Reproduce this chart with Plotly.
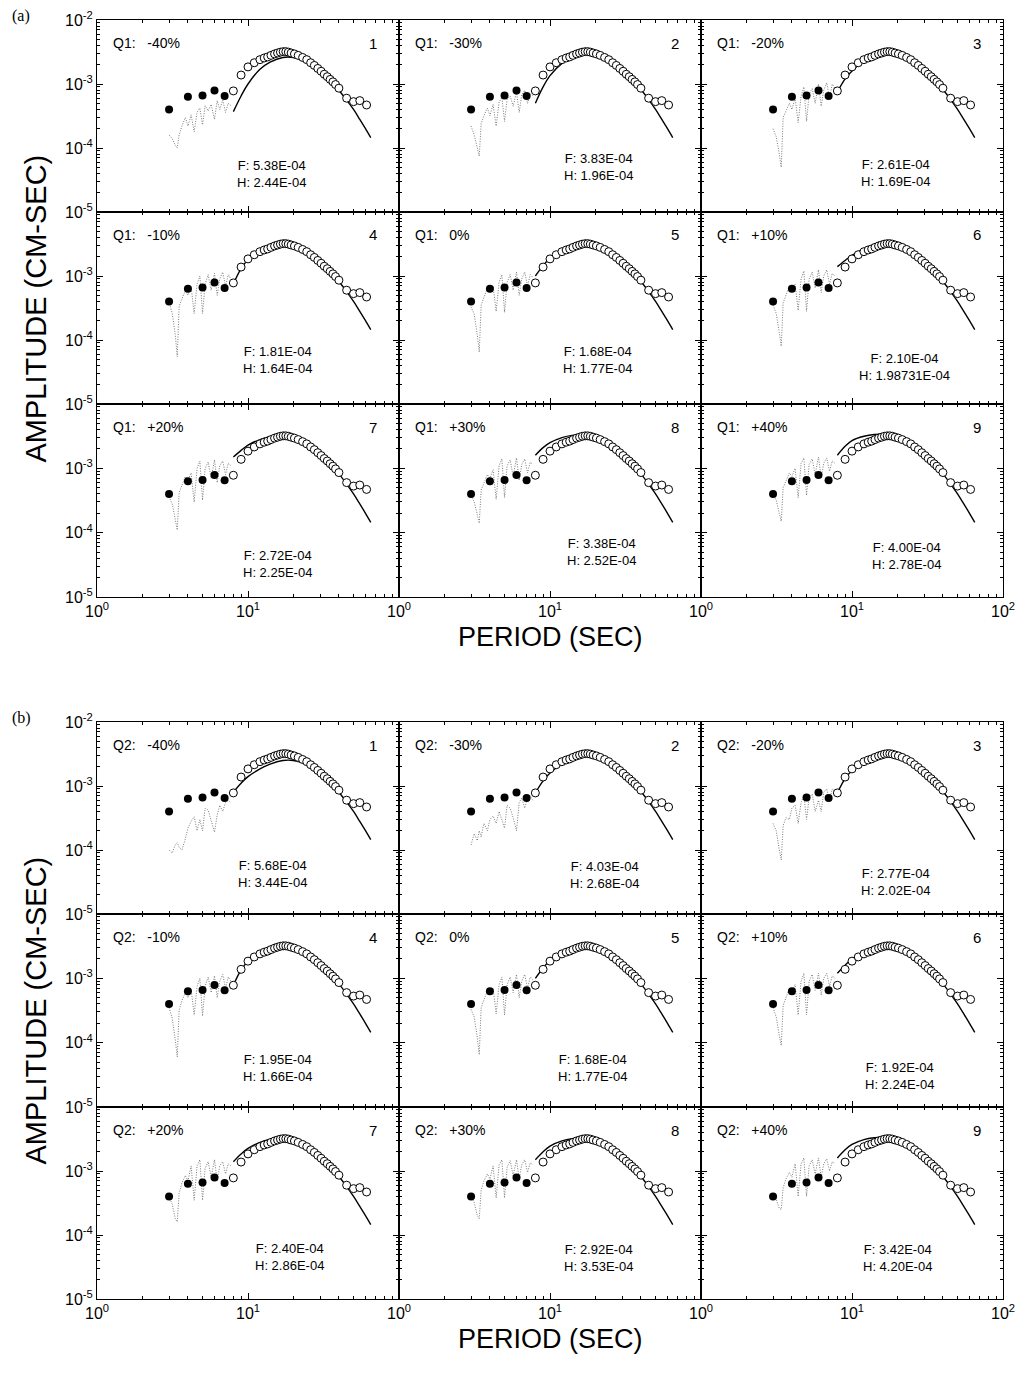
import plotly.graph_objects as go

# page offset: the browser body has an 8px margin, so the figure is drawn 8px in
OFF = 8
W, H = 1026 - 2 * OFF, 1376 - 2 * OFF

# ---------------- data ----------------
filled_T = [3.0, 4.0, 5.0, 6.0, 7.0]
filled_A = [4.0e-4, 6.3e-4, 6.6e-4, 7.9e-4, 6.5e-4]

open_T = [8.0, 9.0, 10.0, 11.0, 12.0, 12.8, 13.5, 14.2, 15.0, 15.7, 16.4, 17.1, 17.8,
          18.5, 19.3, 20.3, 21.5, 23.0, 24.5, 26.0, 27.5, 29.0, 30.5, 32.0, 33.5, 35.0,
          36.5, 38.0, 40.0, 45.0, 50.0, 55.0, 61.0]
open_A = [7.8e-4, 1.38e-3, 1.85e-3, 2.15e-3, 2.4e-3, 2.55e-3, 2.65e-3, 2.8e-3, 2.95e-3,
          3.05e-3, 3.15e-3, 3.2e-3, 3.2e-3, 3.15e-3, 3.05e-3, 2.95e-3, 2.8e-3, 2.6e-3,
          2.4e-3, 2.15e-3, 1.95e-3, 1.75e-3, 1.58e-3, 1.42e-3, 1.3e-3, 1.18e-3, 1.08e-3,
          9.8e-4, 8.6e-4, 6.0e-4, 5.3e-4, 5.5e-4, 4.7e-4]

line_T = [8, 9, 10, 12, 14, 17, 20, 25, 30, 35, 40, 45, 50, 55, 60, 65]
line_q1 = [
    [3.7e-4, 6.5e-4, 1.0e-3, 1.7e-3, 2.2e-3, 2.6e-3, 2.6e-3, 2.2e-3, 1.6e-3, 1.13e-3, 8.0e-4, 5.6e-4, 4.0e-4, 2.8e-4, 2.0e-4, 1.45e-4],
    [5.0e-4, 9.0e-4, 1.35e-3, 2.1e-3, 2.6e-3, 3.0e-3, 2.9e-3, 2.3e-3, 1.62e-3, 1.15e-3, 8.2e-4, 5.7e-4, 4.0e-4, 2.8e-4, 2.0e-4, 1.45e-4],
    [7.5e-4, 1.2e-3, 1.6e-3, 2.3e-3, 2.75e-3, 3.1e-3, 2.95e-3, 2.3e-3, 1.62e-3, 1.15e-3, 8.2e-4, 5.7e-4, 4.0e-4, 2.8e-4, 2.0e-4, 1.45e-4],
    [7.5e-4, 1.3e-3, 1.8e-3, 2.4e-3, 2.85e-3, 3.15e-3, 3.0e-3, 2.3e-3, 1.62e-3, 1.15e-3, 8.2e-4, 5.7e-4, 4.0e-4, 2.8e-4, 2.0e-4, 1.45e-4],
    [1.0e-3, 1.45e-3, 1.9e-3, 2.5e-3, 2.9e-3, 3.2e-3, 3.0e-3, 2.3e-3, 1.62e-3, 1.15e-3, 8.2e-4, 5.7e-4, 4.0e-4, 2.8e-4, 2.0e-4, 1.45e-4],
    [1.4e-3, 1.75e-3, 2.1e-3, 2.65e-3, 3.0e-3, 3.2e-3, 3.0e-3, 2.3e-3, 1.62e-3, 1.15e-3, 8.2e-4, 5.7e-4, 4.0e-4, 2.8e-4, 2.0e-4, 1.45e-4],
    [1.5e-3, 1.9e-3, 2.3e-3, 2.8e-3, 3.1e-3, 3.25e-3, 3.0e-3, 2.3e-3, 1.62e-3, 1.15e-3, 8.2e-4, 5.7e-4, 4.0e-4, 2.8e-4, 2.0e-4, 1.45e-4],
    [1.6e-3, 2.1e-3, 2.5e-3, 3.0e-3, 3.25e-3, 3.3e-3, 3.05e-3, 2.3e-3, 1.62e-3, 1.15e-3, 8.2e-4, 5.7e-4, 4.0e-4, 2.8e-4, 2.0e-4, 1.45e-4],
    [1.6e-3, 2.2e-3, 2.7e-3, 3.15e-3, 3.35e-3, 3.35e-3, 3.05e-3, 2.3e-3, 1.62e-3, 1.15e-3, 8.2e-4, 5.7e-4, 4.0e-4, 2.8e-4, 2.0e-4, 1.45e-4],
]
line_q2 = [
    [8.0e-4, 1.1e-3, 1.4e-3, 1.85e-3, 2.2e-3, 2.5e-3, 2.5e-3, 2.15e-3, 1.6e-3, 1.13e-3, 8.0e-4, 5.6e-4, 4.0e-4, 2.8e-4, 2.0e-4, 1.45e-4],
    [7.8e-4, 1.2e-3, 1.6e-3, 2.2e-3, 2.6e-3, 2.9e-3, 2.85e-3, 2.3e-3, 1.62e-3, 1.15e-3, 8.2e-4, 5.7e-4, 4.0e-4, 2.8e-4, 2.0e-4, 1.45e-4],
    [7.8e-4, 1.3e-3, 1.75e-3, 2.35e-3, 2.8e-3, 3.05e-3, 2.95e-3, 2.3e-3, 1.62e-3, 1.15e-3, 8.2e-4, 5.7e-4, 4.0e-4, 2.8e-4, 2.0e-4, 1.45e-4],
    [7.8e-4, 1.35e-3, 1.85e-3, 2.45e-3, 2.85e-3, 3.15e-3, 3.0e-3, 2.3e-3, 1.62e-3, 1.15e-3, 8.2e-4, 5.7e-4, 4.0e-4, 2.8e-4, 2.0e-4, 1.45e-4],
    [1.0e-3, 1.45e-3, 1.9e-3, 2.5e-3, 2.9e-3, 3.2e-3, 3.0e-3, 2.3e-3, 1.62e-3, 1.15e-3, 8.2e-4, 5.7e-4, 4.0e-4, 2.8e-4, 2.0e-4, 1.45e-4],
    [1.2e-3, 1.6e-3, 2.0e-3, 2.6e-3, 2.95e-3, 3.2e-3, 3.0e-3, 2.3e-3, 1.62e-3, 1.15e-3, 8.2e-4, 5.7e-4, 4.0e-4, 2.8e-4, 2.0e-4, 1.45e-4],
    [1.4e-3, 1.85e-3, 2.25e-3, 2.8e-3, 3.1e-3, 3.25e-3, 3.0e-3, 2.3e-3, 1.62e-3, 1.15e-3, 8.2e-4, 5.7e-4, 4.0e-4, 2.8e-4, 2.0e-4, 1.45e-4],
    [1.5e-3, 2.0e-3, 2.45e-3, 2.95e-3, 3.2e-3, 3.3e-3, 3.05e-3, 2.3e-3, 1.62e-3, 1.15e-3, 8.2e-4, 5.7e-4, 4.0e-4, 2.8e-4, 2.0e-4, 1.45e-4],
    [1.6e-3, 2.15e-3, 2.6e-3, 3.1e-3, 3.3e-3, 3.35e-3, 3.05e-3, 2.3e-3, 1.62e-3, 1.15e-3, 8.2e-4, 5.7e-4, 4.0e-4, 2.8e-4, 2.0e-4, 1.45e-4],
]

jag_T = [3.0, 3.15, 3.3, 3.4, 3.5, 3.65, 3.85, 4.0, 4.2, 4.4, 4.6, 4.8, 5.0, 5.2, 5.45,
         5.7, 6.0, 6.25, 6.5, 6.8, 7.1, 7.4, 7.7]
jag_q1 = [
    [1.6e-4, 1.4e-4, 1.1e-4, 1.0e-4, 1.6e-4, 2.2e-4, 3.0e-4, 2.2e-4, 3.3e-4, 1.8e-4, 3.6e-4, 4.2e-4, 2.3e-4, 4.6e-4, 3.8e-4, 4.8e-4, 2.8e-4, 5.5e-4, 4.0e-4, 5.6e-4, 3.6e-4, 5.0e-4, 4.6e-4],
    [2.2e-4, 1.6e-4, 1.0e-4, 7.5e-5, 2.4e-4, 3.2e-4, 4.2e-4, 3.2e-4, 4.8e-4, 2.2e-4, 5.2e-4, 6.2e-4, 2.6e-4, 5.8e-4, 6.5e-4, 4.5e-4, 7.5e-4, 3.6e-4, 6.8e-4, 8.0e-4, 5.0e-4, 7.0e-4, 6.5e-4],
    [2.0e-4, 1.5e-4, 8.0e-5, 5.0e-5, 3.0e-4, 3.8e-4, 5.0e-4, 4.0e-4, 6.0e-4, 2.5e-4, 6.5e-4, 9.0e-4, 2.6e-4, 7.0e-4, 8.5e-4, 5.0e-4, 1.0e-3, 4.5e-4, 8.0e-4, 1.05e-3, 6.0e-4, 1.0e-3, 8.5e-4],
    [4.0e-4, 2.6e-4, 1.2e-4, 5.5e-5, 3.4e-4, 4.5e-4, 6.0e-4, 5.0e-4, 6.8e-4, 2.6e-4, 7.5e-4, 1.0e-3, 2.6e-4, 7.5e-4, 1.05e-3, 6.0e-4, 1.1e-3, 5.0e-4, 9.0e-4, 1.15e-3, 7.0e-4, 1.05e-3, 9.0e-4],
    [3.3e-4, 2.5e-4, 1.2e-4, 6.5e-5, 3.5e-4, 4.5e-4, 6.5e-4, 5.5e-4, 7.0e-4, 2.8e-4, 8.0e-4, 1.05e-3, 2.7e-4, 8.0e-4, 1.05e-3, 6.0e-4, 1.15e-3, 5.0e-4, 9.0e-4, 1.15e-3, 7.0e-4, 1.05e-3, 9.5e-4],
    [3.5e-4, 2.6e-4, 1.3e-4, 8.0e-5, 3.8e-4, 5.0e-4, 7.0e-4, 6.0e-4, 7.5e-4, 2.9e-4, 9.0e-4, 1.2e-3, 2.8e-4, 9.0e-4, 1.15e-3, 6.5e-4, 1.25e-3, 5.5e-4, 1.0e-3, 1.25e-3, 7.5e-4, 1.1e-3, 1.0e-3],
    [3.6e-4, 2.8e-4, 1.6e-4, 1.1e-4, 4.2e-4, 5.5e-4, 7.5e-4, 6.5e-4, 8.5e-4, 3.0e-4, 1.0e-3, 1.3e-3, 3.2e-4, 1.0e-3, 1.25e-3, 7.0e-4, 1.35e-3, 6.0e-4, 1.1e-3, 1.3e-3, 8.0e-4, 1.2e-3, 1.1e-3],
    [3.8e-4, 3.0e-4, 1.9e-4, 1.4e-4, 4.6e-4, 6.0e-4, 8.0e-4, 7.0e-4, 9.5e-4, 3.3e-4, 1.1e-3, 1.4e-3, 3.5e-4, 1.1e-3, 1.35e-3, 7.5e-4, 1.45e-3, 6.5e-4, 1.15e-3, 1.4e-3, 8.5e-4, 1.25e-3, 1.15e-3],
    [4.0e-4, 3.2e-4, 2.0e-4, 1.5e-4, 5.0e-4, 6.5e-4, 8.5e-4, 7.5e-4, 1.0e-3, 3.5e-4, 1.2e-3, 1.45e-3, 3.8e-4, 1.15e-3, 1.4e-3, 8.0e-4, 1.5e-3, 7.0e-4, 1.2e-3, 1.45e-3, 9.0e-4, 1.3e-3, 1.2e-3],
]
jag_q2 = [
    [1.0e-4, 9.0e-5, 1.2e-4, 1.3e-4, 1.1e-4, 1.0e-4, 1.5e-4, 2.2e-4, 2.8e-4, 3.3e-4, 2.0e-4, 3.0e-4, 2.0e-4, 4.5e-4, 4.2e-4, 3.0e-4, 1.9e-4, 3.5e-4, 5.0e-4, 4.0e-4, 5.5e-4, 6.0e-4, 5.5e-4],
    [1.2e-4, 1.8e-4, 1.4e-4, 2.0e-4, 1.6e-4, 2.6e-4, 2.0e-4, 3.0e-4, 3.4e-4, 2.6e-4, 4.0e-4, 3.0e-4, 2.2e-4, 5.0e-4, 4.5e-4, 3.2e-4, 2.0e-4, 5.5e-4, 6.5e-4, 4.5e-4, 6.5e-4, 7.0e-4, 6.0e-4],
    [2.6e-4, 2.0e-4, 1.0e-4, 7.0e-5, 2.4e-4, 3.2e-4, 3.0e-4, 4.5e-4, 5.0e-4, 2.6e-4, 5.5e-4, 7.0e-4, 3.0e-4, 6.5e-4, 7.5e-4, 4.0e-4, 6.0e-4, 4.0e-4, 8.0e-4, 9.0e-4, 6.0e-4, 9.0e-4, 8.0e-4],
    [3.5e-4, 2.4e-4, 1.1e-4, 6.0e-5, 3.2e-4, 4.5e-4, 6.0e-4, 5.0e-4, 6.8e-4, 2.7e-4, 7.5e-4, 1.0e-3, 2.6e-4, 7.5e-4, 1.05e-3, 6.0e-4, 1.1e-3, 5.0e-4, 9.0e-4, 1.15e-3, 7.0e-4, 1.05e-3, 9.0e-4],
    [3.3e-4, 2.5e-4, 1.2e-4, 6.5e-5, 3.5e-4, 4.6e-4, 6.5e-4, 5.5e-4, 7.0e-4, 2.8e-4, 8.0e-4, 1.05e-3, 2.7e-4, 8.0e-4, 1.05e-3, 6.0e-4, 1.15e-3, 5.0e-4, 9.0e-4, 1.15e-3, 7.0e-4, 1.05e-3, 9.5e-4],
    [3.5e-4, 2.5e-4, 1.3e-4, 9.0e-5, 3.8e-4, 5.0e-4, 7.0e-4, 6.0e-4, 8.0e-4, 2.7e-4, 9.0e-4, 1.2e-3, 2.7e-4, 9.0e-4, 1.15e-3, 6.5e-4, 1.2e-3, 5.5e-4, 1.0e-3, 1.2e-3, 7.5e-4, 1.1e-3, 1.0e-3],
    [4.0e-4, 3.0e-4, 1.8e-4, 1.6e-4, 4.5e-4, 6.5e-4, 8.5e-4, 7.0e-4, 1.2e-3, 3.5e-4, 1.2e-3, 1.5e-3, 3.5e-4, 1.1e-3, 1.4e-3, 8.0e-4, 1.5e-3, 7.0e-4, 1.2e-3, 1.4e-3, 9.0e-4, 1.3e-3, 1.2e-3],
    [4.2e-4, 3.2e-4, 2.0e-4, 1.8e-4, 5.0e-4, 7.0e-4, 9.0e-4, 7.5e-4, 1.2e-3, 3.8e-4, 1.25e-3, 1.5e-3, 3.8e-4, 1.15e-3, 1.45e-3, 8.5e-4, 1.5e-3, 7.5e-4, 1.25e-3, 1.5e-3, 9.5e-4, 1.35e-3, 1.25e-3],
    [4.5e-4, 3.6e-4, 2.6e-4, 2.5e-4, 5.5e-4, 7.5e-4, 9.5e-4, 8.0e-4, 1.3e-3, 4.0e-4, 1.3e-3, 1.6e-3, 4.0e-4, 1.2e-3, 1.5e-3, 9.0e-4, 1.6e-3, 8.0e-4, 1.3e-3, 1.55e-3, 1.0e-3, 1.4e-3, 1.3e-3],
]

pct_labels = ["-40%", "-30%", "-20%", "-10%", "0%", "+10%", "+20%", "+30%", "+40%"]
f_q1 = ["5.38E-04", "3.83E-04", "2.61E-04", "1.81E-04", "1.68E-04", "2.10E-04", "2.72E-04", "3.38E-04", "4.00E-04"]
h_q1 = ["2.44E-04", "1.96E-04", "1.69E-04", "1.64E-04", "1.77E-04", "1.98731E-04", "2.25E-04", "2.52E-04", "2.78E-04"]
f_q2 = ["5.68E-04", "4.03E-04", "2.77E-04", "1.95E-04", "1.68E-04", "1.92E-04", "2.40E-04", "2.92E-04", "3.42E-04"]
h_q2 = ["3.44E-04", "2.68E-04", "2.02E-04", "1.66E-04", "1.77E-04", "2.24E-04", "2.86E-04", "3.53E-04", "4.20E-04"]

x_tick_vals = [1, 10, 100]
x_tick_text = ["10<sup>0</sup>", "10<sup>1</sup>", "10<sup>2</sup>"]
y_tick_vals = [1e-5, 1e-4, 1e-3, 1e-2]
y_tick_text = ["10<sup>-5</sup>", "10<sup>-4</sup>", "10<sup>-3</sup>", "10<sup>-2</sup>"]

# ---------------- layout geometry (page pixels) ----------------
cols = [97, 399, 701, 1003]
rows_groups = [[20, 212, 404, 597], [722, 914, 1107, 1299]]
fh_pos = [
    [(271, 174), (598, 167), (895, 173), (277, 360), (597, 360), (904, 367), (277, 564), (601, 552), (906, 556)],
    [(272, 874), (604, 875), (895, 882), (277, 1068), (592, 1068), (899, 1076), (289, 1257), (598, 1258), (897, 1258)],
]

FONT = "Liberation Sans, Arial, sans-serif"
minor_x = [2, 3, 4, 5, 6, 7, 8, 9, 20, 30, 40, 50, 60, 70, 80, 90]
minor_y = [m * d for d in (1e-5, 1e-4, 1e-3) for m in (2, 3, 4, 5, 6, 7, 8, 9)]


def px(x):
    return (x - OFF) / W


def py(y):
    return 1 - (y - OFF) / H


fig = go.Figure()
layout = dict(
    template="none",
    width=W, height=H, margin=dict(l=0, r=0, t=0, b=0, pad=0, autoexpand=False),
    paper_bgcolor="white", plot_bgcolor="white", showlegend=False,
    font=dict(family=FONT, color="black"),
)
annotations = []

for g in range(2):
    rows = rows_groups[g]
    qname = "Q1" if g == 0 else "Q2"
    lines = line_q1 if g == 0 else line_q2
    jags = jag_q1 if g == 0 else jag_q2
    fv = f_q1 if g == 0 else f_q2
    hv = h_q1 if g == 0 else h_q2
    for r in range(3):
        for c in range(3):
            i = r * 3 + c
            k = g * 9 + i + 1
            xa = "x" if k == 1 else f"x{k}"
            ya = "y" if k == 1 else f"y{k}"
            fig.add_trace(go.Scatter(x=jag_T, y=jags[i], mode="lines", xaxis=xa, yaxis=ya,
                                     line=dict(color="#7a7a7a", width=1, dash="1px,1.5px")))
            fig.add_trace(go.Scatter(x=line_T, y=lines[i], mode="lines", xaxis=xa, yaxis=ya,
                                     line=dict(color="black", width=1.4, shape="spline")))
            fig.add_trace(go.Scatter(x=open_T, y=open_A, mode="markers", xaxis=xa, yaxis=ya,
                                     marker=dict(symbol="circle", size=8, color="white",
                                                 line=dict(color="black", width=1))))
            fig.add_trace(go.Scatter(x=filled_T, y=filled_A, mode="markers", xaxis=xa, yaxis=ya,
                                     marker=dict(symbol="circle", size=8, color="black",
                                                 line=dict(color="black", width=0))))
            xv, xt = list(x_tick_vals), list(x_tick_text)
            if c < 2:
                xv, xt = xv[:2], xt[:2]
            yv, yt = list(y_tick_vals), list(y_tick_text)
            if r > 0:
                yv, yt = yv[:3], yt[:3]
            xkey = "xaxis" if k == 1 else f"xaxis{k}"
            ykey = "yaxis" if k == 1 else f"yaxis{k}"
            layout[xkey] = dict(
                type="log", range=[0, 2], domain=[px(cols[c]), px(cols[c + 1])], anchor=ya,
                automargin=False,
                showline=True, linecolor="black", linewidth=1, mirror="ticks",
                ticks="inside", ticklen=6, tickcolor="black", tickwidth=1,
                tickvals=xv, ticktext=xt, showticklabels=(r == 2),
                tickfont=dict(size=16, family=FONT, color="black"),
                showgrid=False, zeroline=False, fixedrange=True,
                minor=dict(tickvals=minor_x, ticks="inside", ticklen=3, tickcolor="black", showgrid=False),
            )
            layout[ykey] = dict(
                type="log", range=[-5, -2], domain=[py(rows[r + 1]), py(rows[r])], anchor=xa,
                automargin=False,
                showline=True, linecolor="black", linewidth=1, mirror="ticks",
                ticks="inside", ticklen=6, tickcolor="black", tickwidth=1,
                tickvals=yv, ticktext=yt, showticklabels=(c == 0),
                tickfont=dict(size=16, family=FONT, color="black"),
                showgrid=False, zeroline=False, fixedrange=True,
                minor=dict(tickvals=minor_y, ticks="inside", ticklen=3, tickcolor="black", showgrid=False),
            )
            annotations.append(dict(
                x=px(cols[c] + 14), y=py(rows[r] + 23), xref="paper", yref="paper",
                text=f"{qname}:\u00a0\u00a0\u00a0{pct_labels[i]}", showarrow=False,
                xanchor="left", yanchor="middle", font=dict(size=14, family=FONT)))
            annotations.append(dict(
                x=px(cols[c + 1] - 20), y=py(rows[r] + 23), xref="paper", yref="paper",
                text=str(i + 1), showarrow=False,
                xanchor="right", yanchor="middle", font=dict(size=15, family=FONT)))
            fx, fy = fh_pos[g][i]
            annotations.append(dict(
                x=px(fx), y=py(fy), xref="paper", yref="paper",
                text=f"F: {fv[i]}<br>H: {hv[i]}", showarrow=False, align="center",
                xanchor="center", yanchor="middle", font=dict(size=13, family=FONT)))

    top, bot = rows[0], rows[3]
    annotations.append(dict(
        x=px(10), y=py(top - 4), xref="paper", yref="paper", text="(a)" if g == 0 else "(b)",
        showarrow=False, xanchor="left", yanchor="middle",
        font=dict(size=16, family="Liberation Serif, Times New Roman, serif")))
    annotations.append(dict(
        x=px(35), y=py((top + bot) / 2), xref="paper", yref="paper",
        text="AMPLITUDE (CM-SEC)", textangle=-90, showarrow=False,
        xanchor="center", yanchor="middle", font=dict(size=29, family=FONT)))
    annotations.append(dict(
        x=px((cols[0] + cols[3]) / 2), y=py(bot + 40), xref="paper", yref="paper",
        text="PERIOD (SEC)", showarrow=False,
        xanchor="center", yanchor="middle", font=dict(size=27, family=FONT)))

layout["annotations"] = annotations
fig.update_layout(**layout)
fig.write_html("out.html")
